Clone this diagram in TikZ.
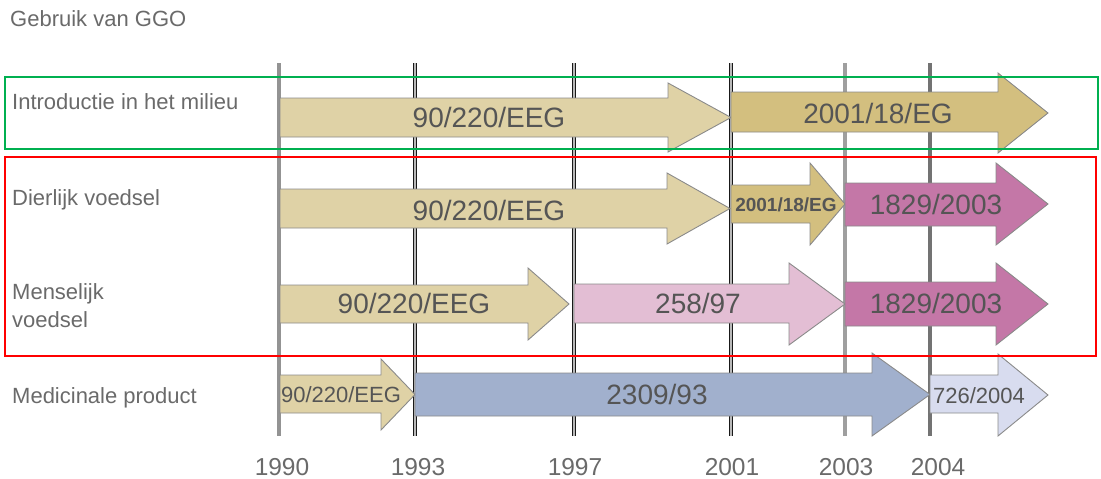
\documentclass[tikz,border=0pt]{standalone}
\usepackage{fontspec}
\setmainfont{Liberation Sans}
\definecolor{tanL}{HTML}{DFD2A6}
\definecolor{tanD}{HTML}{D3BF7F}
\definecolor{magC}{HTML}{C477A7}
\definecolor{pinkL}{HTML}{E3BED4}
\definecolor{blueC}{HTML}{A1B0CD}
\definecolor{lavC}{HTML}{D8DCEF}
\definecolor{arrowline}{HTML}{8A8A8A}
\definecolor{textgray}{HTML}{555555}
\definecolor{labelgray}{HTML}{6A6A6A}
\definecolor{greenbox}{HTML}{00B050}
\newcommand\tlarrow[8]{%
  \draw[arr, fill=#8] (#1,#4) -- (#2,#4) -- (#2,#6) -- (#3,{(#6+#7)/2}) -- (#2,#7) -- (#2,#5) -- (#1,#5) -- cycle;}
\begin{document}
\begin{tikzpicture}[x=1pt,y=-1pt,
  arr/.style={draw=arrowline, line width=0.9pt, line join=miter},
  lbl/.style={anchor=base west, inner sep=0pt, text=labelgray, font=\fontsize{22}{26}\selectfont},
  atxt/.style={anchor=base, inner sep=0pt, text=textgray, font=\fontsize{28}{32}\selectfont},
  stxt/.style={anchor=base, inner sep=0pt, text=textgray, font=\fontsize{22}{26}\selectfont},
  yr/.style={anchor=base, inner sep=0pt, text=labelgray, font=\fontsize{24.5}{28}\selectfont},
  vgray/.style={draw=gray!85, line width=4pt},
  vdark/.style={draw=black!90, line width=1.4pt, double=gray!55, double distance=1.2pt},
  box/.style={line width=2pt}]
\useasboundingbox (0,0) rectangle (1101,479);

% year lines
\draw[vgray] (279,63) -- (279,436);
\draw[vdark] (415,63) -- (415,436);
\draw[vdark] (574,63) -- (574,436);
\draw[vdark] (731,63) -- (731,436);
\draw[vgray, draw=gray!75] (845,63) -- (845,436);
\draw[vgray, draw=black!55, line width=4.5pt] (930,63) -- (930,436);

% arrows
\tlarrow{280}{668}{731}{98}{137}{83}{152}{tanL}
\tlarrow{731}{998}{1048}{92}{132}{73}{153}{tanD}
\tlarrow{280}{667}{730}{189}{228}{173}{244}{tanL}
\tlarrow{731}{810}{845}{185}{223}{163}{245}{tanD}
\tlarrow{845}{996}{1048}{183}{226}{163}{245}{magC}
\tlarrow{280}{528}{569}{285}{323}{268}{340}{tanL}
\tlarrow{574}{789}{845}{284}{323}{263}{345}{pinkL}
\tlarrow{845}{996}{1048}{282}{326}{263}{345}{magC}
\tlarrow{280}{381}{415}{375}{413}{359}{430}{tanL}
\tlarrow{415}{872}{930}{373}{416}{353}{436}{blueC}
\tlarrow{930}{998}{1048}{375}{413}{354}{436}{lavC}

% arrow labels
\node[atxt] (t11) at (489,127) {90/220/EEG};
\node[atxt] (t12) at (878,123) {2001/18/EG};
\node[atxt] (t21) at (489,220) {90/220/EEG};
\node[atxt, font=\fontsize{19}{22}\selectfont\bfseries] (t22) at (786,211) {2001/18/EG};
\node[atxt] (t23) at (936,214) {1829/2003};
\node[atxt] (t31) at (414,313) {90/220/EEG};
\node[atxt] (t32) at (698,313) {258/97};
\node[atxt] (t33) at (936,313) {1829/2003};
\node[stxt] (t41) at (341,402) {90/220/EEG};
\node[atxt] (t42) at (657,404) {2309/93};
\node[stxt] (t43) at (979,403) {726/2004};

% left labels
\node[lbl] (title) at (10,27) {Gebruik van GGO};
\node[lbl] (l1) at (12,109) {Introductie in het milieu};
\node[lbl] (l2) at (12,205) {Dierlijk voedsel};
\node[lbl] (l3a) at (12,299) {Menselijk};
\node[lbl] (l3b) at (12,327) {voedsel};
\node[lbl] (l4) at (12,403) {Medicinale product};

% years
\node[yr] (y1990) at (282,475) {1990};
\node[yr] (y1993) at (418,475) {1993};
\node[yr] (y1997) at (575,475) {1997};
\node[yr] (y2001) at (732,475) {2001};
\node[yr] (y2003) at (846,475) {2003};
\node[yr] (y2004) at (938,475) {2004};

% group boxes
\draw[box, draw=greenbox] (5,77) rectangle (1098,149);
\draw[box, draw=red] (5,157) rectangle (1096,356);
\end{tikzpicture}
\end{document}
